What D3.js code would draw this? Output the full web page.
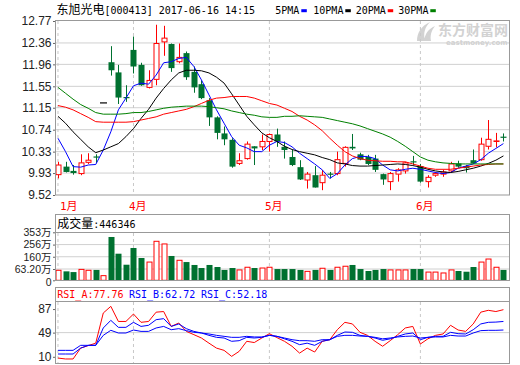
<!DOCTYPE html>
<html><head><meta charset="utf-8">
<script src="https://cdn.jsdelivr.net/npm/d3@7"></script>
<style>body{margin:0;background:#fff}svg{display:block}text{white-space:pre}</style>
</head><body><svg id="c" width="520" height="365"></svg>
<script>
// ---------- data ----------
const days = d3.range(60);
const monthTicks = [0, 10, 28, 48];
const monthLabels = ["1月", "4月", "5月", "6月"];

const open = [9.90,10.05,9.97,9.92,10.13,10.24,11.24,12.00,11.81,11.35,
 12.23,11.95,11.53,11.68,12.38,12.34,12.01,12.17,11.82,11.59,
 11.29,10.97,10.67,10.55,10.11,10.20,10.43,10.42,10.52,10.65,
 10.42,10.23,10.04,9.80,9.89,9.75,9.92,9.92,10.11,10.42,
 10.28,10.23,10.20,9.91,9.77,9.91,9.97,10.15,10.06,9.77,
 9.89,9.91,9.97,10.11,10.06,10.17,10.18,10.43,10.52,10.61];
const high = [10.14,10.14,10.08,10.28,10.30,10.28,11.24,12.30,11.95,11.57,
 12.48,11.99,11.85,12.70,12.68,12.35,12.35,12.20,11.92,11.66,
 11.33,10.99,10.80,10.58,10.30,10.52,10.43,10.65,10.67,10.76,
 10.52,10.36,10.17,9.95,10.06,9.99,9.95,10.33,10.43,10.66,
 10.31,10.27,10.27,9.92,9.95,10.02,10.14,10.25,10.10,9.89,
 9.95,9.99,10.14,10.16,10.08,10.37,10.59,10.92,10.68,10.67];
const low = [9.83,9.94,9.90,9.89,10.10,10.12,11.24,11.75,11.22,11.26,
 11.79,11.56,11.51,11.57,12.12,11.82,11.98,11.67,11.43,11.31,
 10.81,10.56,10.45,10.03,10.08,10.18,10.08,10.36,10.33,10.42,
 10.20,10.06,9.80,9.64,9.66,9.61,9.83,9.89,10.05,10.36,
 10.17,10.08,9.95,9.71,9.61,9.77,9.92,10.08,9.75,9.66,
 9.86,9.86,9.95,10.03,9.94,10.10,10.16,10.37,10.41,10.52];
const close = [10.08,9.95,9.93,10.12,10.17,10.23,11.24,11.85,11.34,11.34,
 11.92,11.57,11.66,12.35,12.45,11.89,12.09,11.72,11.53,11.33,
 10.97,10.68,10.56,10.05,10.16,10.47,10.39,10.52,10.65,10.52,
 10.36,10.08,9.81,9.91,9.66,9.89,9.91,10.18,10.41,10.39,
 10.18,10.10,9.99,9.81,9.92,9.99,10.12,10.14,9.77,9.85,
 9.92,9.95,10.10,10.05,10.02,10.11,10.47,10.56,10.53,10.60];

const ma5 = [10.58,10.33,10.05,10.04,10.08,10.09,10.36,10.70,11.11,11.33,
 11.56,11.61,11.59,11.76,11.99,12.01,12.07,12.09,11.92,11.67,
 11.39,11.11,10.86,10.61,10.45,10.40,10.33,10.33,10.45,10.52,
 10.50,10.42,10.30,10.20,10.10,9.99,9.83,9.92,10.08,10.20,
 10.24,10.24,10.20,10.08,9.99,9.97,10.00,10.02,10.00,9.97,
 9.94,9.92,9.94,10.02,10.06,10.10,10.18,10.30,10.39,10.48];
const ma10 = [10.99,10.86,10.70,10.56,10.42,10.31,10.36,10.42,10.48,10.61,
 10.76,10.95,11.12,11.33,11.51,11.67,11.80,11.85,11.85,11.84,
 11.80,11.72,11.61,11.41,11.20,10.99,10.83,10.68,10.59,10.52,
 10.43,10.37,10.33,10.30,10.27,10.22,10.18,10.12,10.10,10.07,
 10.06,10.06,10.07,10.08,10.09,10.10,10.09,10.07,10.04,10.00,
 9.97,9.95,9.94,9.96,9.99,10.02,10.06,10.11,10.17,10.25];
const ma20 = [11.19,11.16,11.11,11.04,10.97,10.89,10.88,10.88,10.88,10.88,
 10.89,10.92,10.95,10.98,11.03,11.06,11.09,11.12,11.17,11.23,
 11.29,11.33,11.34,11.36,11.36,11.36,11.33,11.28,11.23,11.20,
 11.14,11.08,10.99,10.92,10.83,10.72,10.58,10.45,10.33,10.25,
 10.20,10.17,10.16,10.15,10.15,10.14,10.14,10.10,10.06,10.02,
 10.00,10.00,10.00,10.02,10.04,10.06,10.08,10.09,10.10,10.10];
const ma30 = [11.53,11.42,11.31,11.21,11.14,11.06,11.03,11.03,11.03,11.04,
 11.06,11.06,11.08,11.11,11.14,11.16,11.17,11.18,11.18,11.18,
 11.17,11.15,11.13,11.09,11.06,11.03,11.01,10.98,10.97,10.97,
 10.99,10.99,11.00,10.99,10.98,10.97,10.94,10.91,10.88,10.85,
 10.81,10.76,10.71,10.66,10.60,10.52,10.43,10.33,10.23,10.17,
 10.14,10.12,10.11,10.10,10.10,10.10,10.10,10.10,10.10,10.10];

// volume, in 万
const volume = [56,50,46,61,56,58,26,316,184,97,
 229,150,118,282,261,166,132,118,95,71,
 95,79,58,71,58,77,71,71,77,63,
 63,63,58,50,58,69,58,77,85,95,
 63,52,58,63,58,58,58,63,63,46,
 46,41,58,52,48,79,118,142,77,58];

const rsiA = [8,6.5,6.5,24,28,32,80.6,91.4,67,67,
 79,65.6,67,82,83,59,64.5,51,45.7,40.3,
 32,24,20.4,10.7,18.8,35,33,40.3,47.3,41,
 35,27,16,24,17.7,35,37.6,53.7,65.6,63,
 49.5,44.6,35,27,36,45.7,56.5,59,30.6,39,
 44.6,46.8,60.8,53.2,51,63,82,85,83,86];
const rsiB = [14.5,14.5,14.5,24,28.5,28.5,56.5,68.8,57.5,57.5,
 65.6,59,60.8,69.9,71.5,59,63,55.4,51,48.4,
 44.6,41.4,40.3,35,36,41.4,40.3,41.4,44.6,43,
 39,35,29.6,32,28.5,35,37.6,44.6,50,49.5,
 44.6,43,40.3,36.6,39,43,46.8,48.4,37.6,41.4,
 43,43,49.5,47.3,46.8,53.7,63,65.6,66,67];
const rsiC = [20.4,20.4,20.4,28.5,28.5,28.5,44.6,52.7,48.4,48.4,
 53.2,51,51,56.5,59,53.7,55.4,52.2,49.5,48.4,
 46.8,44.6,43,41.4,41.4,43,42,42,44.6,43,
 40.3,37.6,36,36,35,37.6,37.6,43,44.6,44.6,
 43.5,43,41.4,39,40.3,42,43,43.5,40.3,41.4,
 42,42,44.6,43.5,43.5,48.4,52.2,52.7,52.7,53.2];

const priceTicks = [12.77,12.36,11.96,11.55,11.15,10.74,10.33,9.93,9.52];
const volTicks = [0, 63.2, 160, 256, 353];
const volTickLabels = ["0", "63.20万", "160万", "256万", "353万"];
const rsiTicks = [10, 49, 87];
const maNames = ["5PMA", "10PMA", "20PMA", "30PMA"];
const headerName = "东旭光电";
const headerInfo = "[000413] 2017-06-16 14:15";
const volHeaderName = "成交量";
const volHeaderValue = ":446346";
const rsiHeaders = ["RSI_A:77.76", "RSI_B:62.72", "RSI_C:52.18"];

// ---------- drawing ----------
const RED = "#ff0000", GREEN = "#007130", BLUE = "#0000ff";
const maColors = [BLUE, "#000000", RED, "#008000"];
const svg = d3.select("#c");
const L = 55, R = 510;
const mono = "'DejaVu Sans Mono',monospace";
const cjk = "'Noto Sans CJK SC',sans-serif";
const sans = "'Liberation Sans','Noto Sans CJK SC',sans-serif";

const x = d3.scaleBand().domain(days).range([54.2, 507.2]);
const cx = i => x(i) + x.bandwidth() / 2;
const y = d3.scaleLinear().domain([9.52, 12.77]).range([195, 21]);
const yv = d3.scaleLinear().domain([0, 63.2, 353]).range([280.3, 269, 232.3]);
const yr = d3.scaleLinear().domain([0, 100]).range([363, 301]);

// mixed CJK + ASCII text
function mixed(xp, yp, cjkText, asciiText, color) {
  const t = svg.append("text").attr("x", xp).attr("y", yp).attr("fill", color || "#000");
  t.append("tspan").attr("font-family", cjk).attr("font-size", 12).text(cjkText);
  t.append("tspan").attr("font-family", mono).attr("font-size", 10).text(asciiText);
  return t;
}

// header
mixed(56.5, 13.5, headerName, headerInfo);
const legX = [275.3, 313.3, 355.7, 398.3], legW = [24, 30, 30, 30];
maNames.forEach((n, k) => {
  svg.append("text").attr("x", legX[k]).attr("y", 13.5).attr("font-family", mono)
    .attr("font-size", 10).attr("fill", "#000").text(n);
  svg.append("rect").attr("x", legX[k] + legW[k] + 2).attr("y", 9.2).attr("width", 5.5)
    .attr("height", 3).attr("fill", maColors[k]);
});

// watermark
const wm = svg.append("g").attr("fill", "#d2d2d2");
wm.append("path").attr("d", "M417,41 C417,33 421,26 430,22 C425,27 423,33 425,41 Z M424,41 C425,34 428,29 435,26 C431,31 430,36 431,41 Z");
wm.append("text").attr("x", 438).attr("y", 34.5).attr("font-family", cjk)
  .attr("font-weight", "bold").attr("font-size", 14).text("东方财富网");
wm.append("text").attr("x", 446).attr("y", 45).attr("font-family", "'DejaVu Sans',sans-serif")
  .attr("font-weight", "bold").attr("font-size", 7).text("eastmoney.com");

// ---- panels: grids ----
function vDashes(y0, y1) {
  svg.append("g").selectAll("line").data(monthTicks).join("line")
    .attr("x1", d => cx(d)).attr("x2", d => cx(d)).attr("y1", y0).attr("y2", y1)
    .attr("stroke", "#c8c8c8").attr("stroke-dasharray", "3,3");
}
svg.append("g").selectAll("line").data(priceTicks.slice(1, -1)).join("line")
  .attr("x1", L).attr("x2", R).attr("y1", d => y(d)).attr("y2", d => y(d))
  .attr("stroke", "#d0d0d0");
vDashes(21, 195);
svg.append("g").selectAll("line").data(volTicks.slice(1, -1)).join("line")
  .attr("x1", L).attr("x2", R).attr("y1", d => yv(d)).attr("y2", d => yv(d))
  .attr("stroke", "#d0d0d0");
vDashes(233, 280);
svg.append("line").attr("x1", L).attr("x2", R).attr("y1", yr(49)).attr("y2", yr(49)).attr("stroke", "#d0d0d0");
vDashes(302, 363);

// ---- candles ----
const cg = svg.append("g");
days.forEach(i => {
  const o = open[i], c = close[i], h = high[i], l = low[i];
  const xc = Math.round(cx(i)) + 0.5;
  const top = y(Math.max(o, c)), bot = y(Math.min(o, c));
  if (c > o) {
    cg.append("line").attr("x1", xc).attr("x2", xc).attr("y1", y(h)).attr("y2", top).attr("stroke", RED);
    cg.append("line").attr("x1", xc).attr("x2", xc).attr("y1", bot).attr("y2", y(l)).attr("stroke", RED);
    cg.append("rect").attr("x", xc - 2.5).attr("y", top).attr("width", 5).attr("height", Math.max(0.5, bot - top))
      .attr("fill", "#fff").attr("stroke", RED);
  } else if (c < o) {
    cg.append("line").attr("x1", xc).attr("x2", xc).attr("y1", y(h)).attr("y2", y(l)).attr("stroke", GREEN);
    cg.append("rect").attr("x", xc - 3).attr("y", top).attr("width", 6).attr("height", Math.max(1.2, bot - top))
      .attr("fill", GREEN);
  } else {
    cg.append("line").attr("x1", xc).attr("x2", xc).attr("y1", y(h)).attr("y2", y(l)).attr("stroke", "#000");
    cg.append("line").attr("x1", xc - 3.5).attr("x2", xc + 3.5).attr("y1", y(o)).attr("y2", y(o)).attr("stroke", "#000").attr("stroke-width", 1.2);
  }
});

// moving averages
[ma5, ma10, ma20, ma30].forEach((arr, k) => {
  svg.append("path").datum(arr).attr("fill", "none").attr("stroke", maColors[k]).attr("stroke-width", 1)
    .attr("d", d3.line().x((d, i) => cx(i)).y(d => y(d)));
});

// ---- volume bars ----
const vg = svg.append("g");
days.forEach(i => {
  const xc = Math.round(cx(i)) + 0.5;
  const t = yv(volume[i]), b = yv(0);
  if (close[i] >= open[i]) {
    vg.append("rect").attr("x", xc - 2.5).attr("y", t).attr("width", 5).attr("height", b - t)
      .attr("fill", "#fff").attr("stroke", RED);
  } else {
    vg.append("rect").attr("x", xc - 3).attr("y", t).attr("width", 6).attr("height", b - t).attr("fill", GREEN);
  }
});

// ---- RSI lines ----
[[rsiA, RED], [rsiB, BLUE], [rsiC, BLUE]].forEach(([arr, col]) => {
  svg.append("path").datum(arr).attr("fill", "none").attr("stroke", col).attr("stroke-width", 1)
    .attr("d", d3.line().x((d, i) => cx(i)).y(d => yr(d)));
});

// ---- borders ----
const border = "#999";
svg.append("rect").attr("x", L + 0.5).attr("y", 20.5).attr("width", R - L - 1).attr("height", 174.5)
  .attr("fill", "none").attr("stroke", border);
svg.append("rect").attr("x", L + 0.5).attr("y", 214.5).attr("width", R - L - 1).attr("height", 66)
  .attr("fill", "none").attr("stroke", border);
svg.append("line").attr("x1", L).attr("x2", R).attr("y1", 232.5).attr("y2", 232.5).attr("stroke", border);
svg.append("rect").attr("x", L + 0.5).attr("y", 287.5).attr("width", R - L - 1).attr("height", 76)
  .attr("fill", "none").attr("stroke", border);
svg.append("line").attr("x1", L).attr("x2", R).attr("y1", 301.5).attr("y2", 301.5).attr("stroke", border);

// ---- axes ----
function styleAxis(size) {
  return g => {
    g.select(".domain").remove();
    g.selectAll(".tick line").attr("stroke", "#666");
    g.selectAll("text").attr("font-family", sans).attr("font-size", size).attr("fill", "#222");
  };
}
svg.append("g").attr("transform", `translate(${L},0)`)
  .call(d3.axisLeft(y).tickValues(priceTicks).tickFormat(d3.format(".2f")).tickSize(2).tickPadding(1.5))
  .call(styleAxis(12));
const vAxis = svg.append("g").attr("transform", `translate(${L},0)`)
  .call(d3.axisLeft(yv).tickValues(volTicks).tickFormat((d, k) => volTickLabels[k]).tickSize(2).tickPadding(1.5))
  .call(styleAxis(10.5));
vAxis.selectAll(".tick text").filter(d => d === 0).attr("dy", "0.45em");
svg.append("g").attr("transform", `translate(${L},0)`)
  .call(d3.axisLeft(yr).tickValues(rsiTicks).tickFormat(d3.format("d")).tickSize(2).tickPadding(1.5))
  .call(styleAxis(12));

// month labels
svg.append("g").selectAll("text").data(monthTicks).join("text")
  .attr("x", d => Math.max(60, cx(d) - 4.5)).attr("y", 210)
  .attr("font-family", "'DejaVu Sans Mono','Noto Sans CJK SC',monospace").attr("font-size", 11).attr("fill", RED)
  .text((d, k) => monthLabels[k]);

// panel headers
mixed(57.3, 227.5, volHeaderName, volHeaderValue);
const rsiX = [57.3, 129, 201], rsiCol = [RED, BLUE, BLUE];
rsiHeaders.forEach((t, k) => {
  svg.append("text").attr("x", rsiX[k]).attr("y", 297.5).attr("font-family", mono).attr("font-size", 10)
    .attr("fill", rsiCol[k]).text(t);
});
</script></body></html>
